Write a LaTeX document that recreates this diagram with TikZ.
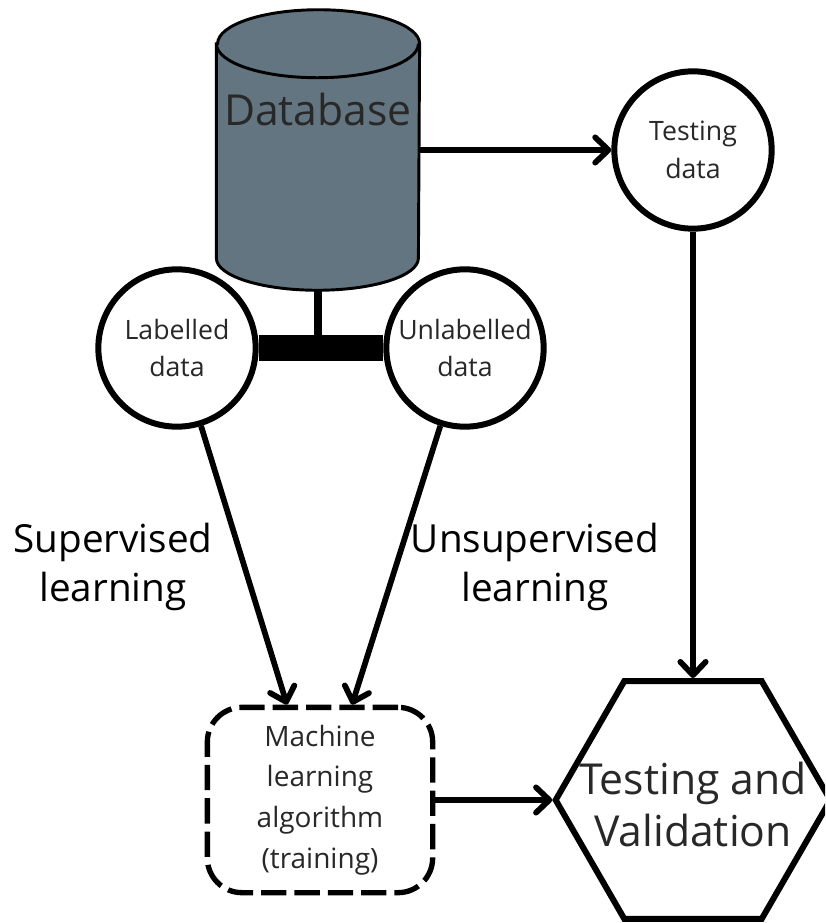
\documentclass[tikz,border=0pt]{standalone}
\usepackage{fontspec}
\setmainfont{Open Sans}
\usetikzlibrary{shapes.geometric,arrows.meta,calc}

\definecolor{dbgray}{RGB}{99,117,128}
\definecolor{inkgray}{RGB}{40,40,40}

\tikzset{
	datacircle/.style={circle, draw=black, line width=4.5pt, fill=white, minimum size=118pt, inner sep=0pt,
		text=inkgray, font=\fontsize{20}{28}\selectfont, align=center},
	dbframe/.style={rectangle, minimum width=152pt, minimum height=210pt, inner sep=0pt},
	dbbody/.style={draw=black, line width=2.2pt, fill=dbgray},
	algobox/.style={rectangle, rounded corners=26pt, draw=black, line width=4pt, dash pattern=on 19pt off 6pt,
		minimum width=169pt, minimum height=139pt, inner sep=0pt, text=inkgray, font=\fontsize{21}{30.5}\selectfont, align=center},
	hexa/.style={regular polygon, regular polygon sides=6, draw=black, line width=4.5pt, minimum size=206pt, inner sep=0pt},
	bigtext/.style={font=\fontsize{32}{39}\selectfont, text=inkgray, align=center, inner sep=0pt},
	sidetext/.style={font=\fontsize{29}{36.5}\selectfont, text=black, align=center, inner sep=0pt},
	flow/.style={line width=4.3pt, -{Straight Barb[length=10pt, width=19pt, round]}}
}

\begin{document}
\begin{tikzpicture}[x=0.75pt, y=-0.75pt]
	\useasboundingbox (0,0) rectangle (825,923);
	\clip (0,0) rectangle (825,923);

	% database drum
	\node[dbframe] (db) at (318,150) {};
	\draw[dbbody] ($(db.north west)+(0,34)$) -- ($(db.south west)+(0,-32)$)
		arc[start angle=180, end angle=360, x radius=75.75pt, y radius=24pt]
		-- ($(db.north east)+(0,34)$)
		arc[start angle=0, end angle=180, x radius=75.75pt, y radius=25.5pt] -- cycle;
	\draw[dbbody, fill=none] ($(db.north west)+(0,34)$)
		arc[start angle=180, end angle=360, x radius=75.75pt, y radius=25.5pt];
	\node[bigtext] (dbname) at (318,110) {Database};

	% sources
	\node[datacircle] (lab) at (177,348) {Labelled\\data};
	\node[datacircle] (unlab) at (465,348) {Unlabelled\\data};
	\node[datacircle] (td) at (693,150) {Testing\\data};

	% training and testing
	\node[algobox] (ml) at (320,800) {Machine\\learning\\algorithm\\(training)};
	\node[hexa] (tv) at (693,800) {};
	\node[bigtext] (tvname) at (693,804) {Testing and\\Validation};

	\node[sidetext] (sup) at (113,567) {Supervised\\learning};
	\node[sidetext] (unsup) at (535,567) {Unsupervised\\learning};

	% split of the database
	\draw[line width=20pt] (lab) -- (unlab);
	\draw[line width=6pt] (db.south) -- (db.south |- lab.east);

	\draw[flow] (db) -- (td);
	\draw[flow] (td) -- (tv);
	\draw[flow] (lab) -- ($(ml.north)+(-33,0)$);
	\draw[flow] (unlab) -- ($(ml.north)+(32,0)$);
	\draw[flow] (ml) -- (tv);

\end{tikzpicture}
\end{document}
